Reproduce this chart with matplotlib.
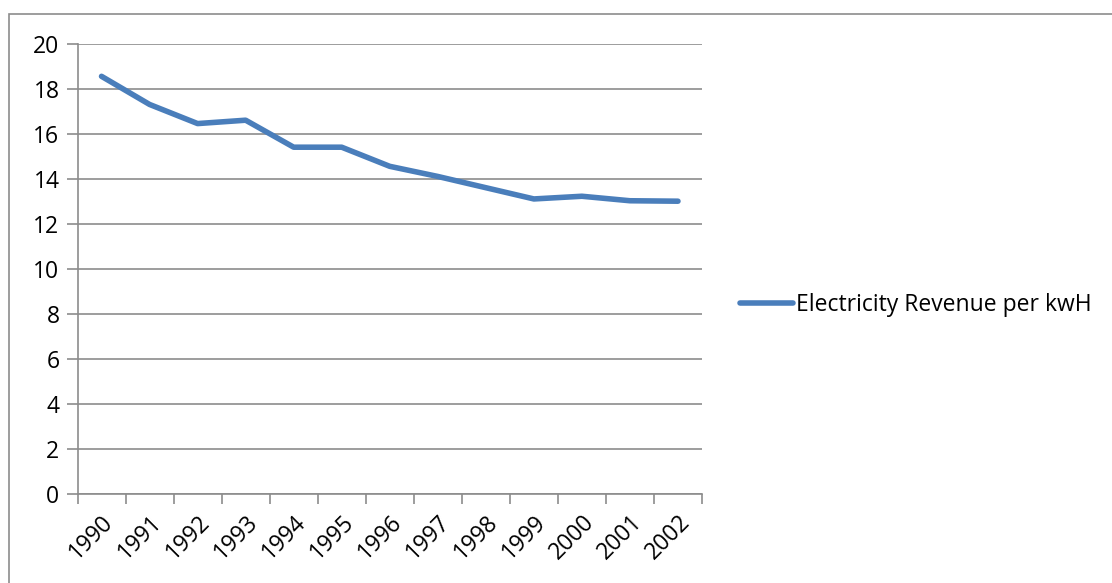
import matplotlib.pyplot as plt
from matplotlib.patches import Rectangle
import numpy as np

years = ['1990', '1991', '1992', '1993', '1994', '1995', '1996',
         '1997', '1998', '1999', '2000', '2001', '2002']
revenue = [18.55, 17.3, 16.45, 16.6, 15.4, 15.4, 14.55,
           14.1, 13.6, 13.1, 13.22, 13.02, 13.0]
series_name = 'Electricity Revenue per kwH'

plt.rcParams['font.family'] = ['Open Sans', 'DejaVu Sans']
fs = 16.5

W, H = 1112, 583
fig = plt.figure(figsize=(W / 100, H / 100), dpi=100)

# chart border, runs off the right and bottom edges
fig.patches.append(Rectangle((8.5 / W, -0.1), 1.2, 1 - 14.5 / H + 0.1,
                             transform=fig.transFigure, fill=False,
                             edgecolor='#8c8c8c', linewidth=1.2))

left, right, top, bottom = 77.5, 702, 43.7, 493.7
ax = fig.add_axes([left / W, 1 - bottom / H, (right - left) / W, (bottom - top) / H])

x = np.arange(len(years))
line, = ax.plot(x, revenue, color='#4a7ebb', linewidth=4,
                solid_capstyle='round', solid_joinstyle='round', label=series_name)

ax.set_xlim(-0.5, len(years) - 0.5)
ax.set_ylim(0, 20)
ax.set_yticks(range(0, 21, 2))
ax.set_xticks(np.arange(-0.5, len(years), 1))
ax.set_xticklabels([])
ax.set_xticks(x, minor=True)
ax.set_xticklabels(years, minor=True, rotation=45, ha='right', va='top',
                   rotation_mode='anchor', fontsize=fs)
ax.tick_params(axis='x', which='minor', length=0, pad=12)
ax.tick_params(axis='x', which='major', length=7, width=1.2, color='#8c8c8c', direction='out')
ax.tick_params(axis='y', length=8, width=1.2, color='#8c8c8c', direction='out',
               labelsize=fs, pad=5)

ax.grid(axis='y', color='#8c8c8c', linewidth=1.2)
ax.set_axisbelow(True)
for side in ['top', 'right']:
    ax.spines[side].set_visible(False)
for side in ['left', 'bottom']:
    ax.spines[side].set_color('#8c8c8c')
    ax.spines[side].set_linewidth(1.2)

fig.legend(handles=[line], loc='center left', bbox_to_anchor=(740 / W, 1 - 305 / H),
           frameon=False, fontsize=fs, handlelength=2.3, handletextpad=0.15,
           borderpad=0, borderaxespad=0)

fig.savefig('out.png', dpi=100)
